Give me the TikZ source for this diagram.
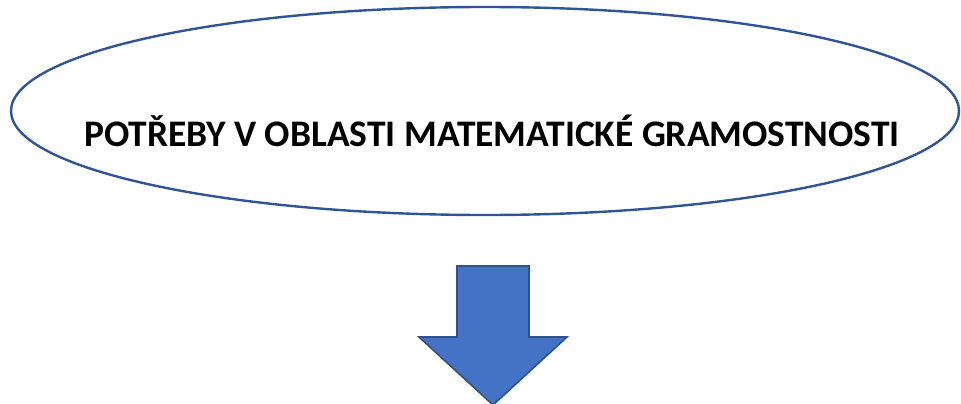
\documentclass[tikz,border=0pt]{standalone}
\usepackage{fontspec}
\setmainfont{Carlito}
\usetikzlibrary{shapes.geometric}
\definecolor{ovalline}{HTML}{2F5597}
\definecolor{arrowfill}{HTML}{4472C4}
\definecolor{arrowline}{HTML}{2F528F}
\begin{document}
\begin{tikzpicture}[
  x=1pt, y=-1pt,
  ovalnode/.style={draw=ovalline, line width=2.4pt, ellipse, minimum width=948pt, minimum height=208pt, inner sep=0pt},
  titletext/.style={font=\fontsize{37.5}{44}\selectfont\bfseries, inner sep=0pt},
  blockarrow/.style={fill=arrowfill, draw=arrowline, line width=1.6pt, line join=miter}
]
\useasboundingbox (0,0) rectangle (961,404);
% Oval
\node[ovalnode] (oval) at (485,111) {};
\node[titletext] (title) at (492,131) {POTŘEBY V OBLASTI MATEMATICKÉ GRAMOSTNOSTI};

% Down arrow
\draw[blockarrow] (457,266) -- (529,266) -- (529,337) -- (567,337) -- (493,405)
  -- (419,337) -- (457,337) -- cycle;
\end{tikzpicture}
\end{document}
